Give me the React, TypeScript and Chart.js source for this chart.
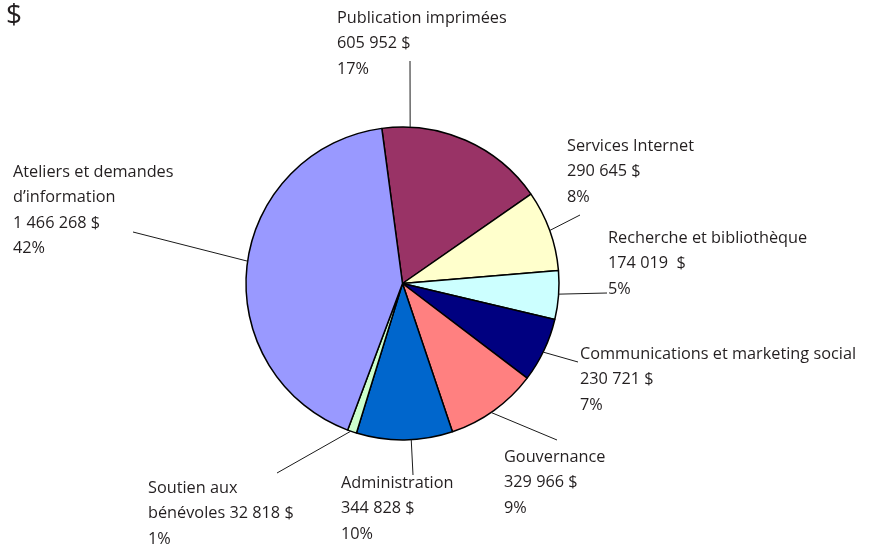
import React, { useEffect, useRef } from 'react';
import { Chart, registerables } from 'chart.js';

Chart.register(...registerables);

const categories = [
  'Publication imprimées',
  'Services Internet',
  'Recherche et bibliothèque',
  'Communications et marketing social',
  'Gouvernance',
  'Administration',
  'Soutien aux bénévoles',
  'Ateliers et demandes d’information',
];
const amounts = [605952, 290645, 174019, 230721, 329966, 344828, 32818, 1466268];
const amountLabels = ['605 952 $', '290 645 $', '174 019  $', '230 721 $', '329 966 $', '344 828 $', '32 818 $', '1 466 268 $'];
const nameLines = [
  ['Publication imprimées'],
  ['Services Internet'],
  ['Recherche et bibliothèque'],
  ['Communications et marketing social'],
  ['Gouvernance'],
  ['Administration'],
  ['Soutien aux', 'bénévoles'],
  ['Ateliers et demandes', 'd’information'],
];
const amountOnNameLine = [false, false, false, false, false, false, true, false];
const colors = ['#993366', '#FFFFCC', '#CCFFFF', '#000080', '#FF8080', '#0066CC', '#CCFFCC', '#9999FF'];
const unitLabel = '$';

// layout (pixels): label anchor (left, first line center) and leader line
const labelPos = [
  [337, 18], [567, 146], [608, 238], [580, 354], [504, 457], [341, 483], [148, 488], [13, 172],
];
const leaderAngle = [2.8, 70.2, 93.9, 116, 145.5, 176.8, 199.3, 278.2];
const leaderEnd = [
  [410, 61], [580, 215], [607, 293], [578, 362], [557, 440], [413, 475], [277, 473], [133, 232],
];

const FONT = '"Open Sans", "Noto Sans", sans-serif';
const TEXT = '#231f20';
const LINE_H = 25.5;

export default function App() {
  const ref = useRef<HTMLCanvasElement | null>(null);
  useEffect(() => {
    document.body.style.margin = '0';
    const canvas = ref.current;
    if (!canvas) return;
    const total = amounts.reduce((a, b) => a + b, 0);
    const pct = amounts.map((v) => Math.round((v / total) * 100) + '%');

    const labelsPlugin = {
      id: 'labelsPlugin',
      afterDraw(chart: any) {
        const ctx = chart.ctx;
        const meta = chart.getDatasetMeta(0);
        const arc = meta.data[0] as any;
        const cx = arc.x, cy = arc.y, r = arc.outerRadius;
        ctx.save();
        ctx.strokeStyle = '#1a1a1a';
        ctx.lineWidth = 1;
        leaderAngle.forEach((a, i) => {
          const rad = (a * Math.PI) / 180;
          const sx = cx + r * Math.sin(rad);
          const sy = cy - r * Math.cos(rad);
          ctx.beginPath();
          ctx.moveTo(sx, sy);
          ctx.lineTo(leaderEnd[i][0], leaderEnd[i][1]);
          ctx.stroke();
        });
        ctx.fillStyle = TEXT;
        ctx.textAlign = 'left';
        ctx.textBaseline = 'middle';
        ctx.font = `16.3px ${FONT}`;
        categories.forEach((_, i) => {
          const lines = [...nameLines[i]];
          if (amountOnNameLine[i]) {
            lines[lines.length - 1] = lines[lines.length - 1] + ' ' + amountLabels[i];
          } else {
            lines.push(amountLabels[i]);
          }
          lines.push(pct[i]);
          lines.forEach((t, k) => {
            ctx.fillText(t, labelPos[i][0], labelPos[i][1] + k * LINE_H);
          });
        });
        ctx.font = `28px ${FONT}`;
        ctx.fillText(unitLabel, 6, 16);
        ctx.restore();
      },
    };

    const chart = new Chart(canvas, {
      type: 'pie',
      data: {
        labels: categories,
        datasets: [
          {
            data: amounts,
            backgroundColor: colors,
            borderColor: '#000000',
            borderWidth: 1.5,
          },
        ],
      },
      options: {
        responsive: false,
        animation: false,
        rotation: -7.6,
        radius: 156.5,
        layout: { padding: { left: 0, right: 67, top: 19, bottom: 0 } },
        plugins: {
          legend: { display: false },
          tooltip: { enabled: false },
        },
      },
      plugins: [labelsPlugin],
    });
    return () => chart.destroy();
  }, []);
  return <canvas ref={ref} width={872} height={548} style={{ display: 'block' }} />;
}
